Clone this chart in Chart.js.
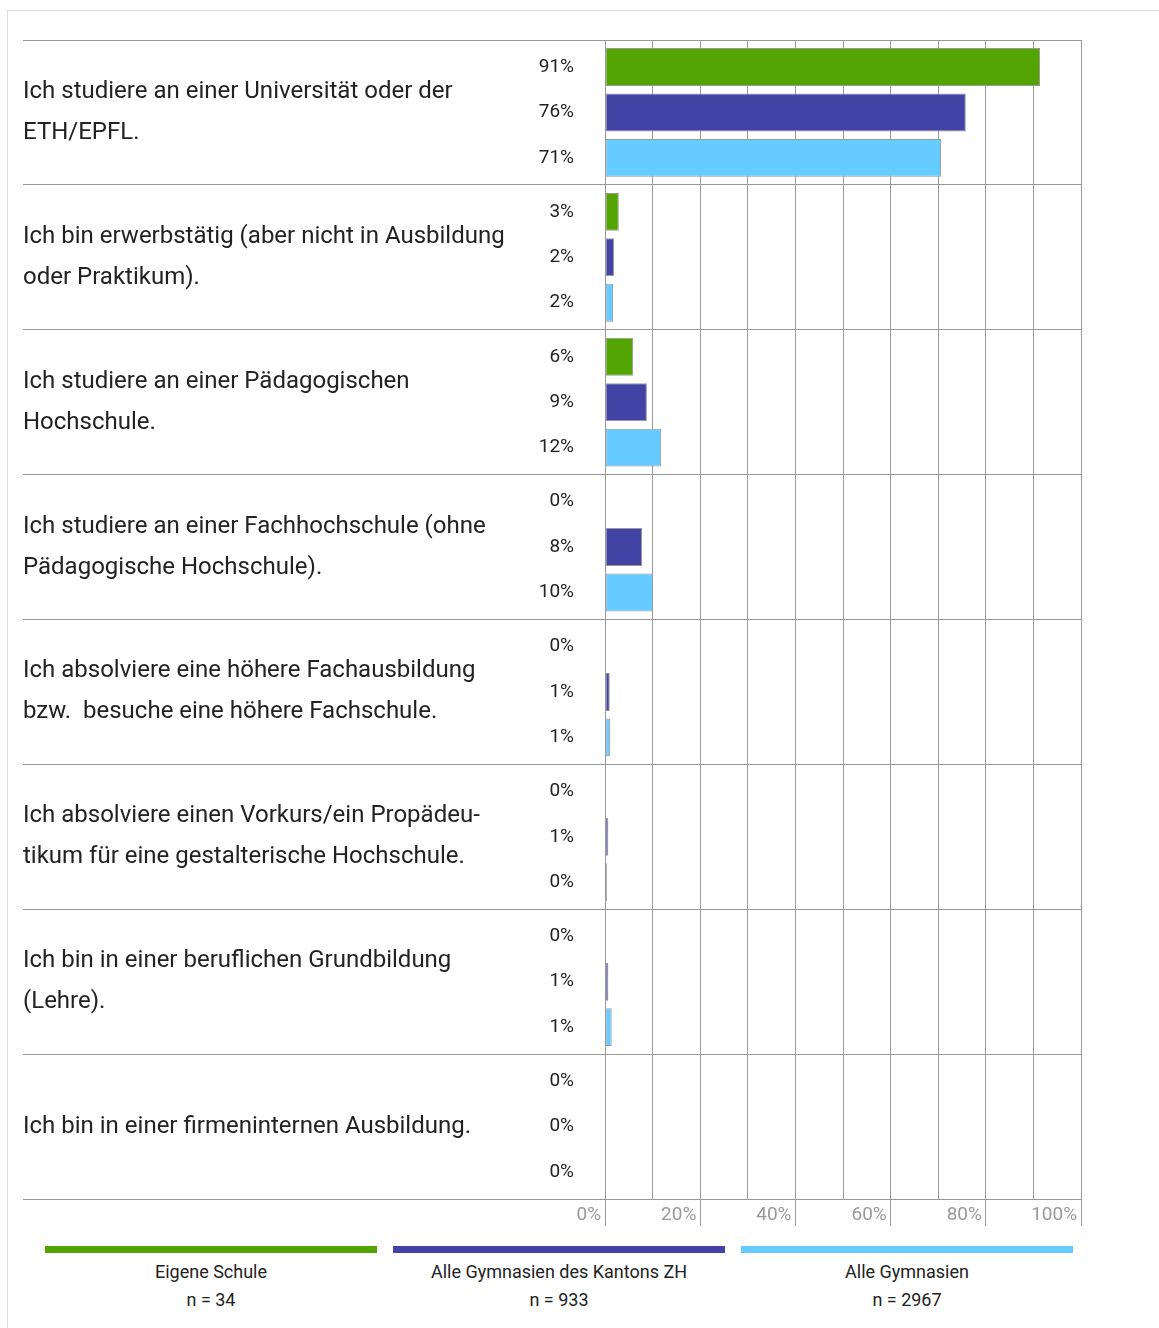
<!DOCTYPE html>
<html>
<head>
<meta charset="utf-8">
<script src="https://cdn.jsdelivr.net/npm/chart.js@4"></script>
<style>
  body { margin: 0; background: #fff; font-family: Roboto, sans-serif; }
  #frame { position: absolute; left: 7px; top: 10px; width: 1160px; height: 1330px;
           border-top: 1px solid #ddd; border-left: 1px solid #ddd; }
  #wrap { position: absolute; left: 0; top: 0; width: 1159px; height: 1240px; }
  #legend { position: absolute; left: 0; top: 1246px; width: 1159px; }
  .item { position: absolute; top: 0; width: 332px; text-align: center; color: #222; font-size: 18px; }
  .item .swatch { height: 7px; }
  .item .name { margin-top: 9px; line-height: 20px; }
  .item .n { margin-top: 8px; line-height: 20px; }
</style>
</head>
<body>
<div id="frame"></div>
<div id="wrap"><canvas id="chart"></canvas></div>
<div id="legend"></div>
<script>
const categories = [
  ['Ich studiere an einer Universität oder der', 'ETH/EPFL.'],
  ['Ich bin erwerbstätig (aber nicht in Ausbildung', 'oder Praktikum).'],
  ['Ich studiere an einer Pädagogischen', 'Hochschule.'],
  ['Ich studiere an einer Fachhochschule (ohne', 'Pädagogische Hochschule).'],
  ['Ich absolviere eine höhere Fachausbildung', 'bzw.  besuche eine höhere Fachschule.'],
  ['Ich absolviere einen Vorkurs/ein Propädeu-', 'tikum für eine gestalterische Hochschule.'],
  ['Ich bin in einer beruflichen Grundbildung', '(Lehre).'],
  ['Ich bin in einer firmeninternen Ausbildung.']
];

const seriesNames = ['Eigene Schule', 'Alle Gymnasien des Kantons ZH', 'Alle Gymnasien'];
const seriesN = [34, 933, 2967];
const seriesColors = ['#52a500', '#4343a5', '#66ccff'];

// percentages (bar lengths)
const eigeneSchule = [91.4, 2.9, 5.9, 0, 0, 0, 0, 0];
const kantonZH = [75.8, 1.9, 8.8, 7.8, 1.0, 0.7, 0.7, 0.1];
const alleGymnasien = [70.6, 1.7, 11.8, 10.1, 1.1, 0.4, 1.4, 0.2];

const xTicks = [0, 20, 40, 60, 80, 100];

const family = 'Roboto, sans-serif';

// value labels left of the axis, one per bar
const valueLabels = {
  id: 'valueLabels',
  afterDatasetsDraw(chart) {
    const ctx = chart.ctx;
    const x = chart.chartArea.left - 31;
    ctx.save();
    ctx.font = '19px ' + family;
    ctx.fillStyle = '#222';
    ctx.textAlign = 'right';
    ctx.textBaseline = 'middle';
    chart.data.datasets.forEach((ds, i) => {
      chart.getDatasetMeta(i).data.forEach((bar, j) => {
        ctx.fillText(Math.round(ds.data[j]) + '%', x, bar.y);
      });
    });
    ctx.restore();
  }
};

const seriesData = [eigeneSchule, kantonZH, alleGymnasien];

new Chart(document.getElementById('chart'), {
  type: 'bar',
  data: {
    labels: categories,
    datasets: seriesData.map((d, i) => ({
      label: seriesNames[i],
      data: d,
      backgroundColor: seriesColors[i],
      borderColor: '#999',
      borderWidth: 1,
      borderSkipped: false,
      categoryPercentage: 0.94,
      barPercentage: 0.835
    }))
  },
  options: {
    indexAxis: 'y',
    responsive: true,
    maintainAspectRatio: false,
    animation: false,
    layout: { padding: { left: 23, top: 40, right: 78, bottom: 11 } },
    plugins: { legend: { display: false }, tooltip: { enabled: false } },
    scales: {
      x: {
        min: 0,
        max: 100,
        afterFit: s => { s.height = 30; },
        border: { display: false },
        grid: {
          color: '#999',
          tickLength: 27,
          tickColor: c => xTicks.includes(c.tick.value) ? '#999' : 'rgba(0,0,0,0)'
        },
        ticks: {
          stepSize: 10,
          autoSkip: false,
          maxRotation: 0,
          align: 'end',
          padding: -22,
          color: '#999',
          font: { size: 19, family },
          callback: v => xTicks.includes(v) ? v + '%\u2009' : ''
        }
      },
      y: {
        afterFit: s => { s.width = 582; },
        border: { display: false },
        grid: { offset: true, color: '#999', tickLength: 582, tickColor: '#999' },
        ticks: {
          autoSkip: false,
          crossAlign: 'far',
          padding: 0,
          color: '#222',
          font: { size: 24, family, lineHeight: '41px' }
        }
      }
    }
  },
  plugins: [valueLabels]
});

const legend = document.getElementById('legend');
seriesNames.forEach((name, i) => {
  const item = document.createElement('div');
  item.className = 'item';
  item.style.left = (45 + i * 348) + 'px';
  item.innerHTML = `
    <div class="swatch" style="background:${seriesColors[i]}"></div>
    <div class="name">${name}</div>
    <div class="n">n = ${seriesN[i]}</div>
  `;
  legend.appendChild(item);
});
</script>
</body>
</html>
